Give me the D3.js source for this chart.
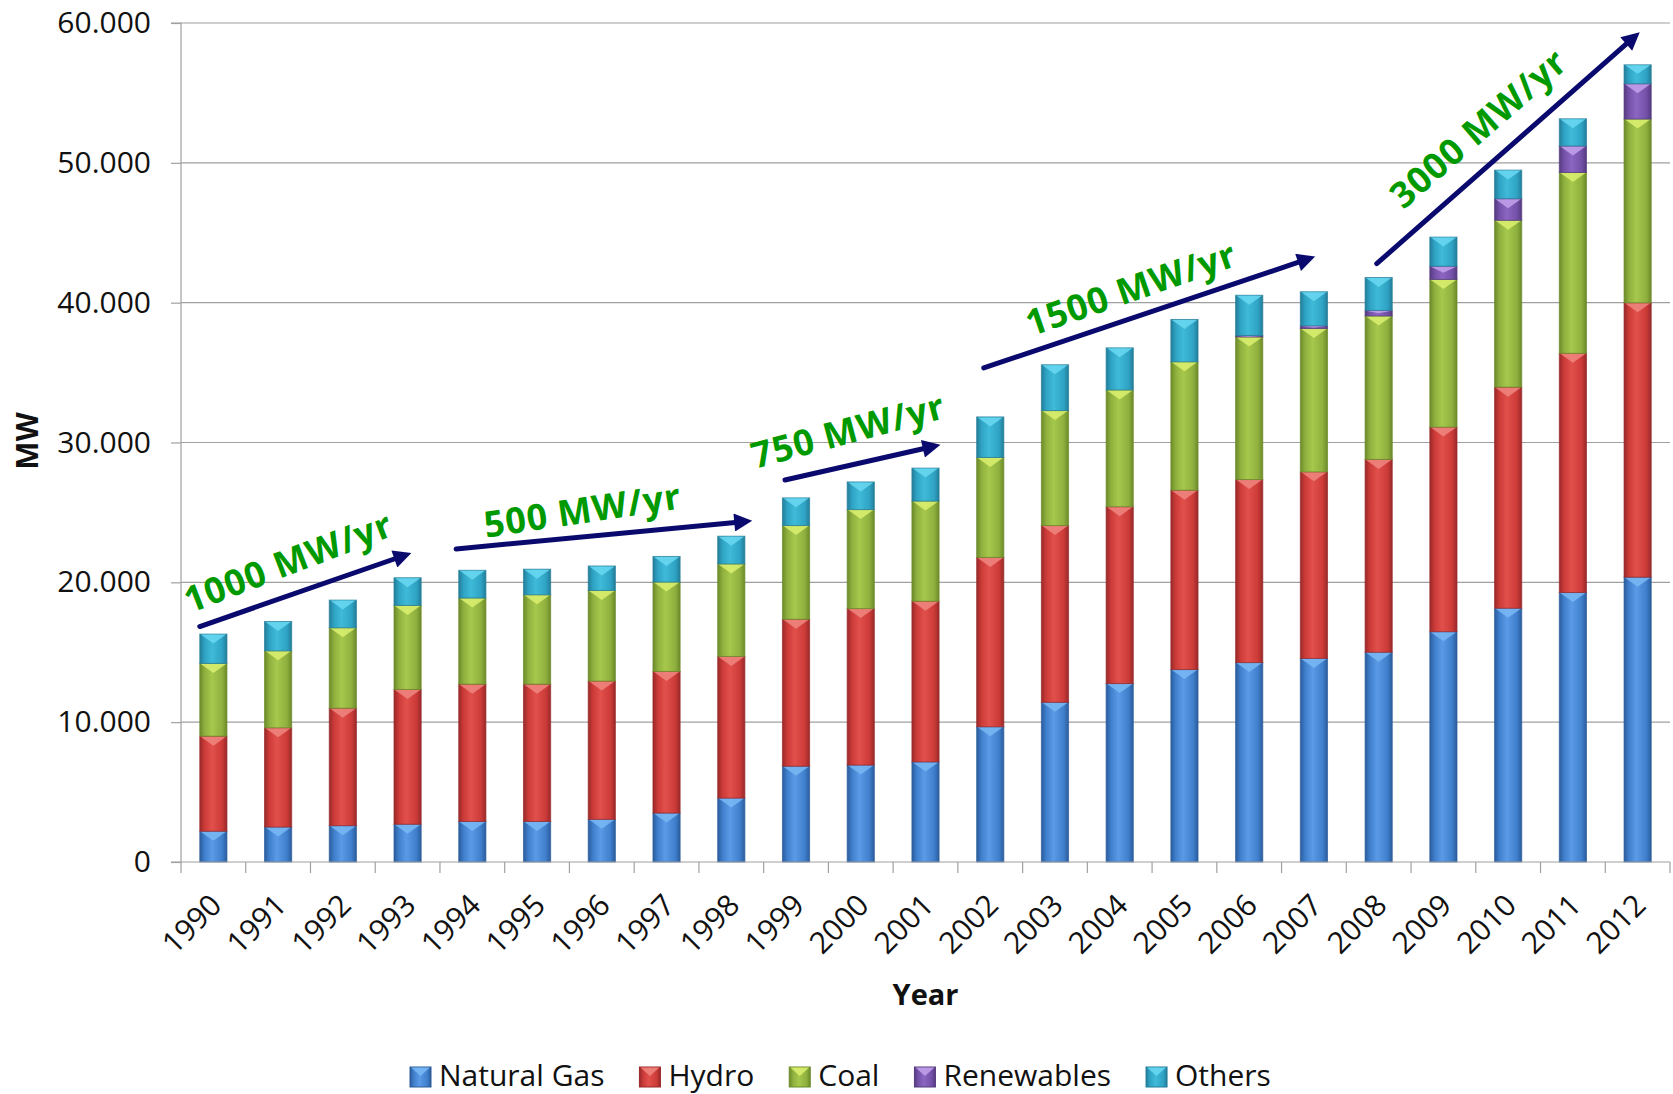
<!DOCTYPE html>
<html>
<head>
<meta charset="utf-8">
<script src="https://cdn.jsdelivr.net/npm/d3@7"></script>
<style>
  body { margin: 0; background: #ffffff; }
  svg { display: block; font-family: "Open Sans", "Noto Sans", sans-serif; }
</style>
</head>
<body>
<svg id="chart" width="1673" height="1094"></svg>
<script>
// ---------------- DATA ----------------
const years = ["1990","1991","1992","1993","1994","1995","1996","1997","1998","1999","2000",
               "2001","2002","2003","2004","2005","2006","2007","2008","2009","2010","2011","2012"];
const naturalGas = [2200,2500,2600,2700,2900,2900,3050,3500,4570,6850,6930,7160,9670,11420,12760,13760,14260,14560,15000,16470,18150,19270,20370];
const hydro      = [6800,7100,8400,9640,9820,9820,9890,10130,10130,10510,11190,11490,12110,12640,12650,12830,13090,13340,13790,14630,15810,17110,19620];
const coal       = [5200,5500,5750,6010,6160,6390,6480,6390,6620,6700,7080,7160,7150,8220,8350,9180,10200,10250,10260,10560,11930,12930,13140];
const renewables = [0,0,0,0,0,0,0,0,0,0,0,0,0,0,0,0,100,200,400,950,1550,1900,2530];
const others     = [2100,2100,1980,1980,1980,1830,1750,1830,1980,1980,1980,2360,2900,3280,3010,3030,2880,2430,2350,2080,2040,1940,1350];
const seriesNames = ["Natural Gas","Hydro","Coal","Renewables","Others"];
const yTickValues = [0,10000,20000,30000,40000,50000,60000];
const yAxisTitle = "MW";
const xAxisTitle = "Year";
// annotations: positions in (category index, MW) units
const annotationLabels = ["1000 MW/yr","500 MW/yr","750 MW/yr","1500 MW/yr","3000 MW/yr"];
const arrowFrom   = [[0.29,16840],[4.25,22390],[9.33,27320],[12.4,35330],[18.47,42790]];
const arrowTo     = [[3.48,21970],[8.74,24360],[11.65,29750],[17.44,43170],[22.47,59085]];
const labelAt     = [[1.65,21500],[6.2,25200],[10.3,30900],[14.67,41050],[20.03,52500]];
const labelAngle  = [-21,-8.5,-15,-19,-41];

// ---------------- STYLE ----------------
const palette = {
  "Natural Gas": {base:"#3f7fcc", light:"#5a9ae6", dark:"#2b5c9c", hi:"#7ab8f4"},
  "Hydro":       {base:"#cc3b38", light:"#e2504c", dark:"#99292a", hi:"#f08680"},
  "Coal":        {base:"#8fb03e", light:"#a6c84c", dark:"#6b8a2a", hi:"#dcf070"},
  "Renewables":  {base:"#7451a8", light:"#8c66c2", dark:"#553a80", hi:"#c3a2ec"},
  "Others":      {base:"#2fa3c4", light:"#3fbad8", dark:"#237d99", hi:"#6ad8f2"}
};

const W = 1673, H = 1094;
const margin = {left:181, right:3, top:23, bottom:232};
const plotW = W - margin.left - margin.right;
const plotH = H - margin.top - margin.bottom;

const svg = d3.select("#chart");
const defs = svg.append("defs");
seriesNames.forEach((s,i) => {
  const p = palette[s];
  const g = defs.append("linearGradient").attr("id","grad"+i)
    .attr("x1","0").attr("x2","1").attr("y1","0").attr("y2","0");
  g.append("stop").attr("offset","0%").attr("stop-color",p.dark);
  g.append("stop").attr("offset","18%").attr("stop-color",p.base);
  g.append("stop").attr("offset","45%").attr("stop-color",p.light);
  g.append("stop").attr("offset","82%").attr("stop-color",p.base);
  g.append("stop").attr("offset","100%").attr("stop-color",p.dark);
});

const rows = years.map((y,i) => ({
  year:y, "Natural Gas":naturalGas[i], "Hydro":hydro[i], "Coal":coal[i],
  "Renewables":renewables[i], "Others":others[i]
}));
const stacked = d3.stack().keys(seriesNames)(rows);

const x = d3.scaleBand().domain(years).range([0, plotW]).paddingInner(0.58).paddingOuter(0.29);
const xIdx = d3.scaleLinear().domain([0, years.length]).range([0, plotW]);
const y = d3.scaleLinear().domain([0, 60000]).range([plotH, 0]);

const g = svg.append("g").attr("transform",`translate(${margin.left},${margin.top})`);

// gridlines
g.append("g").selectAll("line").data(yTickValues.filter(v=>v>0)).join("line")
  .attr("x1",0).attr("x2",plotW).attr("y1",d=>y(d)).attr("y2",d=>y(d))
  .attr("stroke","#a0a0a0").attr("stroke-width",1.2);

// y axis
const locale = d3.formatLocale({decimal:",", thousands:".", grouping:[3], currency:["",""]});
const fmt = locale.format(",");
const yAxis = g.append("g").call(d3.axisLeft(y).tickValues(yTickValues).tickFormat(fmt).tickSize(10).tickPadding(20));
yAxis.select(".domain").attr("stroke","#a0a0a0").attr("stroke-width",1.2).attr("d",`M-10,${plotH}H0V0H-10`);
yAxis.selectAll(".tick line").attr("stroke","#a0a0a0").attr("stroke-width",1.2);
yAxis.selectAll(".tick text").attr("font-size",30).attr("fill","#111").attr("font-family","Open Sans");

// bars
const layer = g.append("g").selectAll("g").data(stacked).join("g");
layer.each(function(series, si){
  const sel = d3.select(this);
  const name = seriesNames[si];
  const p = palette[name];
  const segs = series.map((d,i)=>({d, year:years[i]})).filter(o => o.d[1]-o.d[0] > 0);
  sel.selectAll("rect").data(segs).join("rect")
    .attr("x",o=>x(o.year)).attr("width",x.bandwidth())
    .attr("y",o=>y(o.d[1])).attr("height",o=>y(o.d[0])-y(o.d[1]))
    .attr("fill",`url(#grad${si})`)
    .attr("stroke",p.dark).attr("stroke-width",1).attr("stroke-opacity",0.7);
  sel.selectAll("path.chev").data(segs).join("path").attr("class","chev")
    .attr("d",o=>{
      const x0 = x(o.year)+1, x1 = x(o.year)+x.bandwidth()-1;
      const top = y(o.d[1])+0.5;
      const h = y(o.d[0])-y(o.d[1]);
      const depth = Math.min(9, h*0.45);
      const cx = (x0+x1)/2;
      return `M${x0},${top}L${x1},${top}L${cx},${top+depth}Z`;
    })
    .attr("fill",p.hi).attr("opacity",0.85);
});

// x axis
g.append("line").attr("x1",0).attr("x2",plotW).attr("y1",plotH).attr("y2",plotH)
  .attr("stroke","#a0a0a0").attr("stroke-width",1.2);
g.append("g").selectAll("line").data(d3.range(years.length+1)).join("line")
  .attr("x1",d=>xIdx(d)).attr("x2",d=>xIdx(d)).attr("y1",plotH).attr("y2",plotH+11)
  .attr("stroke","#a0a0a0").attr("stroke-width",1.2);
const xAxis = g.append("g").attr("transform",`translate(0,${plotH})`)
  .call(d3.axisBottom(x).tickSize(0).tickPadding(0));
xAxis.select(".domain").remove();
xAxis.selectAll(".tick text")
  .attr("font-size",30).attr("fill","#111").attr("font-family","Open Sans")
  .attr("text-anchor","end").attr("dy",null).attr("y",null)
  .attr("transform","translate(10,45) rotate(-45)");

// axis titles
svg.append("text").attr("x",margin.left + plotW/2).attr("y",1005)
  .attr("text-anchor","middle").attr("font-size",29).attr("font-weight","bold").attr("fill","#111")
  .text(xAxisTitle);
svg.append("text").attr("transform","translate(38,441) rotate(-90)")
  .attr("text-anchor","middle").attr("font-size",30).attr("font-weight","bold").attr("fill","#111")
  .text(yAxisTitle);

// annotations
const arrowColor = "#0a0a6e";
defs.append("marker").attr("id","ah").attr("viewBox","0 0 10 10").attr("refX",2).attr("refY",5)
  .attr("markerWidth",4.4).attr("markerHeight",3.6).attr("orient","auto").attr("markerUnits","strokeWidth")
  .append("path").attr("d","M0,0L10,5L0,10Z").attr("fill",arrowColor);
const ann = g.append("g");
annotationLabels.forEach((lab,i)=>{
  const [a0,v0] = arrowFrom[i], [a1,v1] = arrowTo[i];
  const X0 = xIdx(a0), Y0 = y(v0), X1 = xIdx(a1), Y1 = y(v1);
  const len = Math.hypot(X1-X0, Y1-Y0);
  const shorten = 9;
  ann.append("line").attr("x1",X0).attr("y1",Y0)
    .attr("x2",X1-(X1-X0)/len*shorten).attr("y2",Y1-(Y1-Y0)/len*shorten)
    .attr("stroke",arrowColor).attr("stroke-width",5).attr("stroke-linecap","round")
    .attr("marker-end","url(#ah)");
  const [ta,tv] = labelAt[i];
  ann.append("text").attr("transform",`translate(${xIdx(ta)},${y(tv)}) rotate(${labelAngle[i]})`)
    .attr("text-anchor","middle").attr("dominant-baseline","central")
    .attr("font-size",36).attr("font-weight","bold").attr("fill","#009a00")
    .attr("letter-spacing","0.8px")
    .text(lab);
});

// legend
const legend = svg.append("g").attr("transform","translate(0,1086)");
let cx = 410;
seriesNames.forEach((s,i)=>{
  const it = legend.append("g").attr("transform",`translate(${cx},0)`);
  it.append("rect").attr("x",0).attr("y",-19).attr("width",21).attr("height",20)
    .attr("fill",`url(#grad${i})`).attr("stroke",palette[s].dark).attr("stroke-width",1);
  it.append("path").attr("d","M1,-18.5L20,-18.5L10.5,-10Z").attr("fill",palette[s].hi).attr("opacity",0.85);
  const t = it.append("text").attr("x",29).attr("y",0).attr("font-size",30).attr("fill","#111").text(s);
  const w = t.node().getComputedTextLength();
  cx += 29 + w + 35;
});
</script>
</body>
</html>
